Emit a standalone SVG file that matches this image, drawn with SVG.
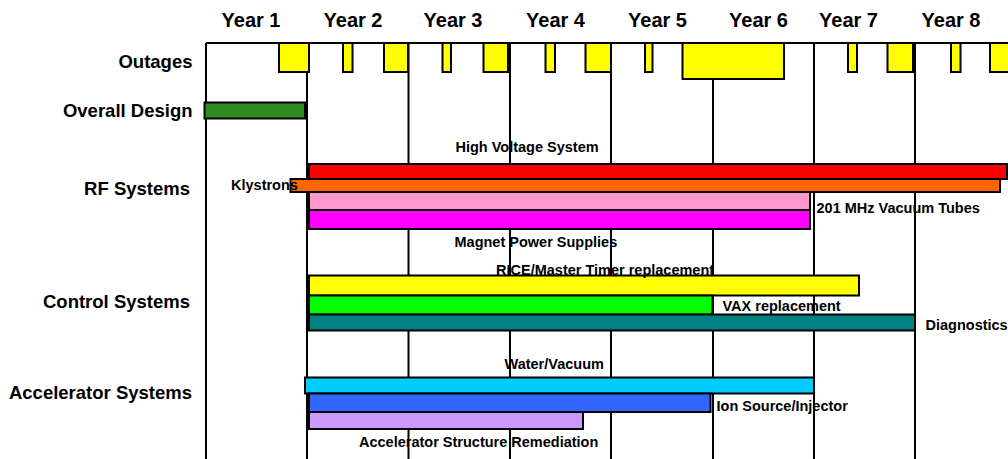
<svg xmlns="http://www.w3.org/2000/svg" width="1008" height="459" viewBox="0 0 1008 459">
<style>
text{font-family:"Liberation Sans",Arial,sans-serif;font-weight:bold;fill:#000}
.yr{font-size:20px;text-anchor:middle}
.cat{font-size:18.5px;text-anchor:end}
.lbl{font-size:14.5px}
.grid{stroke:#000;stroke-width:2;fill:none}
.bar{stroke:#000;stroke-width:2}
.out{fill:#FFFF00;stroke:#000;stroke-width:2}
</style>
<rect width="1008" height="459" fill="#fff"/>
<g id="years">
<text class="yr" x="251" y="27">Year 1</text>
<text class="yr" x="353" y="27">Year 2</text>
<text class="yr" x="453" y="27">Year 3</text>
<text class="yr" x="555.5" y="27">Year 4</text>
<text class="yr" x="657.5" y="27">Year 5</text>
<text class="yr" x="758.5" y="27">Year 6</text>
<text class="yr" x="848.5" y="27">Year 7</text>
<text class="yr" x="951" y="27">Year 8</text>
</g>
<g id="categories">
<text class="cat" x="192.5" y="68">Outages</text>
<text class="cat" x="192.5" y="117">Overall Design</text>
<text class="cat" x="190" y="195">RF Systems</text>
<text class="cat" x="190" y="307.5">Control Systems</text>
<text class="cat" x="192" y="399">Accelerator Systems</text>
</g>
<g id="grid" class="grid">
<line x1="206" y1="43" x2="1008" y2="43"/>
<line x1="206" y1="43" x2="206" y2="459"/>
<line x1="307" y1="43" x2="307" y2="459"/>
<line x1="408.5" y1="43" x2="408.5" y2="459"/>
<line x1="510" y1="43" x2="510" y2="459"/>
<line x1="611" y1="43" x2="611" y2="459"/>
<line x1="713" y1="43" x2="713" y2="459"/>
<line x1="814" y1="43" x2="814" y2="459"/>
<line x1="915" y1="43" x2="915" y2="459"/>
</g>
<g id="outages">
<rect class="out" x="279" y="43" width="30" height="29"/>
<rect class="out" x="343" y="43" width="9.5" height="29"/>
<rect class="out" x="384" y="43" width="24" height="29"/>
<rect class="out" x="442.5" y="43" width="8.5" height="29"/>
<rect class="out" x="483.5" y="43" width="24.5" height="29"/>
<rect class="out" x="545.5" y="43" width="9.5" height="29"/>
<rect class="out" x="585.5" y="43" width="25.5" height="29"/>
<rect class="out" x="645" y="43" width="7.5" height="29"/>
<rect class="out" x="682.5" y="43" width="101.5" height="36"/>
<rect class="out" x="848" y="43" width="9" height="29"/>
<rect class="out" x="887.5" y="43" width="25.5" height="29"/>
<rect class="out" x="951" y="43" width="9.5" height="29"/>
<rect class="out" x="990" y="43" width="25" height="29"/>
</g>
<g id="overall-design">
<rect class="bar" x="204.5" y="102.5" width="100.5" height="16" fill="#2E8B1E"/>
</g>
<g id="rf-systems">
<rect class="bar" x="309" y="164" width="698" height="15" fill="#FF0000"/>
<rect class="bar" x="290.5" y="179" width="709.5" height="13" fill="#FF6600"/>
<rect class="bar" x="309" y="192" width="501" height="18" fill="#FF99CC"/>
<rect class="bar" x="309" y="210" width="501" height="19" fill="#FF00FF"/>
<text class="lbl" x="455.5" y="152">High Voltage System</text>
<text class="lbl" x="231" y="190">Klystrons</text>
<text class="lbl" x="816.5" y="212.5">201 MHz Vacuum Tubes</text>
<text class="lbl" x="454.5" y="246.5">Magnet Power Supplies</text>
</g>
<g id="control-systems">
<rect class="bar" x="309" y="275.5" width="550" height="20" fill="#FFFF00"/>
<rect class="bar" x="309" y="295.5" width="403.5" height="19" fill="#00FF00"/>
<rect class="bar" x="309" y="314.5" width="606" height="16" fill="#008080"/>
<text class="lbl" x="496" y="275">RICE/Master Timer replacement</text>
<text class="lbl" x="722.5" y="311">VAX replacement</text>
<text class="lbl" x="925.5" y="330">Diagnostics</text>
</g>
<g id="accelerator-systems">
<rect class="bar" x="305" y="377.5" width="509" height="16" fill="#00CCFF"/>
<rect class="bar" x="309" y="393.5" width="401.5" height="18.5" fill="#3366FF"/>
<rect class="bar" x="309" y="412" width="274" height="17" fill="#CC99FF"/>
<text class="lbl" x="504.5" y="369">Water/Vacuum</text>
<text class="lbl" x="716.5" y="410.5">Ion Source/Injector</text>
<text class="lbl" x="359" y="447">Accelerator Structure Remediation</text>
</g>
</svg>
